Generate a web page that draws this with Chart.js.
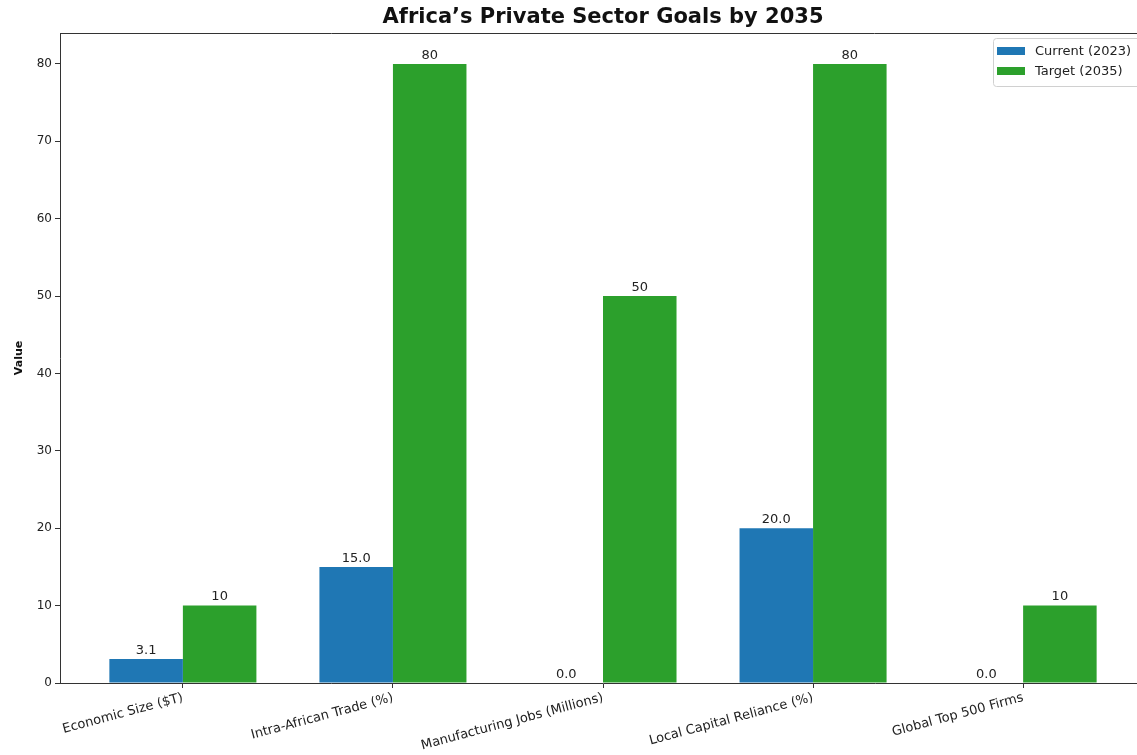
<!DOCTYPE html>
<html>
<head>
<meta charset="utf-8">
<script src="https://cdn.jsdelivr.net/npm/chart.js@4/dist/chart.umd.min.js"></script>
<style>
  html, body { margin: 0; padding: 0; background: #fff; overflow: hidden; }
  #wrap { position: absolute; left: 0; top: 0; width: 1160px; height: 755px; }
</style>
</head>
<body>
<div id="wrap"><canvas id="c"></canvas></div>
<script>
// Categories and values for the private-sector goals chart
const categories = [
  'Economic Size ($T)',
  'Intra-African Trade (%)',
  'Manufacturing Jobs (Millions)',
  'Local Capital Reliance (%)',
  'Global Top 500 Firms'
];
const currentValues = [3.1, 15, 0, 20, 0];
const targetValues = [10, 80, 50, 80, 10];
const yTickValues = [0, 10, 20, 30, 40, 50, 60, 70, 80];
const seriesNames = ['Current (2023)', 'Target (2035)'];
const titleText = 'Africa\u2019s Private Sector Goals by 2035';

const FONT = "'DejaVu Sans', sans-serif";
const INK = '#222';
const SPINE = '#333';

// Value labels above each bar
const barLabels = {
  id: 'barLabels',
  afterDatasetsDraw(chart) {
    const ctx = chart.ctx;
    ctx.save();
    ctx.font = '13px ' + FONT;
    ctx.fillStyle = INK;
    ctx.textAlign = 'center';
    ctx.textBaseline = 'bottom';
    chart.data.datasets.forEach((ds, di) => {
      const meta = chart.getDatasetMeta(di);
      meta.data.forEach((el, i) => {
        const v = ds.data[i].y;
        const txt = di === 0 ? v.toFixed(1) : String(v);
        ctx.fillText(txt, el.x, el.y - 2);
      });
    });
    ctx.restore();
  }
};

// Box frame, centred title and framed legend
const frame = {
  id: 'frame',
  afterDraw(chart) {
    const { ctx, chartArea: a } = chart;
    ctx.save();
    ctx.strokeStyle = SPINE;
    ctx.lineWidth = 1;
    ctx.beginPath();
    ctx.moveTo(a.left, a.top + 0.5);
    ctx.lineTo(a.right, a.top + 0.5);
    ctx.moveTo(a.right - 0.5, a.top);
    ctx.lineTo(a.right - 0.5, a.bottom);
    ctx.stroke();

    // title
    ctx.font = 'bold 21px ' + FONT;
    ctx.fillStyle = '#111';
    ctx.textAlign = 'center';
    ctx.textBaseline = 'middle';
    ctx.fillText(titleText, (a.left + a.right) / 2, 18);

    // legend
    const lx = 993, ly = 38, lw = 150, lh = 48;
    ctx.fillStyle = 'rgba(255,255,255,0.85)';
    ctx.strokeStyle = '#d0d0d0';
    ctx.beginPath();
    ctx.roundRect(lx + 0.5, ly + 0.5, lw, lh, 3);
    ctx.fill();
    ctx.stroke();
    ctx.font = '13px ' + FONT;
    ctx.textAlign = 'left';
    ctx.textBaseline = 'middle';
    chart.data.datasets.forEach((ds, i) => {
      const y = ly + 13 + i * 20;
      ctx.fillStyle = ds.backgroundColor;
      ctx.fillRect(lx + 4, y - 4, 28, 8);
      ctx.fillStyle = INK;
      ctx.fillText(ds.label, lx + 42, y + 1);
    });
    ctx.restore();
  }
};

const toPoints = vals => vals.map((v, i) => ({ x: i, y: v }));

new Chart(document.getElementById('c'), {
  type: 'bar',
  data: {
    datasets: [
      { label: seriesNames[0], data: toPoints(currentValues), backgroundColor: '#1f77b4' },
      { label: seriesNames[1], data: toPoints(targetValues), backgroundColor: '#2ca02c' }
    ]
  },
  options: {
    responsive: true,
    maintainAspectRatio: false,
    animation: false,
    categoryPercentage: 0.7,
    barPercentage: 1.0,
    layout: { padding: { top: 33, right: 14, bottom: 0, left: 0 } },
    plugins: {
      legend: { display: false },
      title: { display: false },
      tooltip: { enabled: false }
    },
    scales: {
      x: {
        type: 'linear',
        offset: false,
        min: -0.585,
        max: 4.585,
        afterBuildTicks(scale) {
          scale.ticks = categories.map((_, i) => ({ value: i }));
        },
        afterFit(scale) { scale.height = 72; },
        grid: {
          offset: false,
          drawOnChartArea: false,
          drawTicks: true,
          tickLength: 5,
          color: SPINE
        },
        border: { display: true, color: SPINE, width: 1 },
        ticks: {
          autoSkip: false,
          minRotation: 15,
          maxRotation: 15,
          padding: 2,
          color: INK,
          font: { family: FONT, size: 13 },
          callback: v => categories[v] ?? ''
        }
      },
      y: {
        min: 0,
        max: 84,
        afterBuildTicks(scale) {
          scale.ticks = yTickValues.map(v => ({ value: v }));
        },
        afterFit(scale) { scale.width = 60; },
        grid: {
          drawOnChartArea: false,
          drawTicks: true,
          tickLength: 5,
          color: SPINE
        },
        border: { display: true, color: SPINE, width: 1 },
        ticks: {
          padding: 3,
          color: INK,
          font: { family: FONT, size: 12 }
        },
        title: {
          display: true,
          text: 'Value',
          color: '#111',
          font: { family: FONT, size: 11, weight: 'bold' },
          padding: { top: 13, bottom: 0 }
        }
      }
    }
  },
  plugins: [barLabels, frame]
});
</script>
</body>
</html>
